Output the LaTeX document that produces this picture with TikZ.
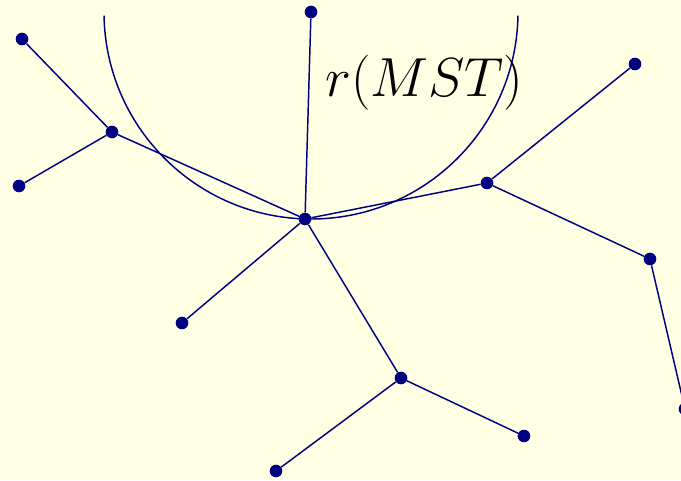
\documentclass[tikz,border=0pt]{standalone}
\usepackage{xcolor}
\usepackage{graphicx}
\usepackage{tikz}
\usetikzlibrary{positioning,calc}
\definecolor{paper}{RGB}{255,255,228}
\definecolor{treeblue}{RGB}{0,0,128}

\begin{document}
\begin{tikzpicture}[
  x=0.75pt, y=-0.75pt,
  vertex/.style={circle, fill=treeblue, inner sep=0pt, minimum size=9.5pt},
  edge/.style={treeblue, line width=1.1pt},
]

\fill[paper] (0,0) rectangle (681,480);
\clip (0,0) rectangle (681,480);

% vertices
\node[vertex] (A)  at (311,12)  {};
\node[vertex] (C)  at (305,219) {};
\node[vertex] (B)  at (112,132) {};
\node[vertex] (B1) at (22,39)   {};
\node[vertex] (B2) at (19,186)  {};
\node[vertex] (D)  at (487,183) {};
\node[vertex] (D1) at (635,64)  {};
\node[vertex] (E)  at (650,259) {};
\node[vertex] (E1) at (685,409) {};
\node[vertex] (F)  at (182,323) {};
\node[vertex] (G)  at (401,378) {};
\node[vertex] (G1) at (276,471) {};
\node[vertex] (G2) at (524,436) {};

% radius circle round A
\draw[edge] ($(A)+(179:207)$) arc[start angle=179, end angle=1, radius=207];

% tree edges
\foreach \u/\v in {B1/B, B2/B, B/C, A/C, C/D, D/D1, D/E, E/E1, C/F, C/G, G/G1, G/G2}{
  \draw[edge] (\u) -- (\v);
}

\node[anchor=base west, inner sep=0pt, font=\Huge]
  (label) at (325,96) {\scalebox{1.66}{$r(MST)$}};

\end{tikzpicture}
\end{document}
